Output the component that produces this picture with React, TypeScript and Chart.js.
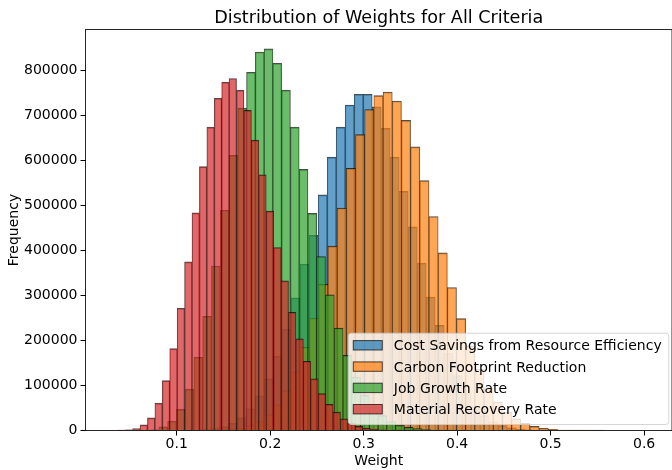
import React, { useEffect, useRef } from "react";
import { Chart, registerables } from "chart.js";

Chart.register(...registerables);

const titleText = "Distribution of Weights for All Criteria";
const xAxisTitle = "Weight";
const yAxisTitle = "Frequency";

const seriesLabels = [
  "Cost Savings from Resource Efficiency",
  "Carbon Footprint Reduction",
  "Job Growth Rate",
  "Material Recovery Rate",
];

// each histogram has its own bins: left edge of first bin and bin width
const costBinStart = 0.1069;
const costBinWidth = 0.00963;
const costCounts = [
  400, 900, 2000, 4200, 8500, 16000, 28000, 48000, 77000, 115000, 165000, 225000,
  295000, 370000, 434000, 524000, 608000, 675000, 724000, 748000, 748000, 720000,
  672000, 608000, 532000, 453000, 372000, 297000, 234000, 172000, 122000, 83000,
  54000, 33000, 20000, 11000, 6000, 3000, 1500, 700, 300,
];

const carbonBinStart = 0.144;
const carbonBinWidth = 0.00982;
const carbonCounts = [
  1500, 3000, 6000, 11000, 20000, 35000, 57000, 88000, 130000, 185000, 250000,
  325000, 410000, 495000, 583000, 658000, 714000, 745000, 753000, 733000, 690000,
  631000, 556000, 476000, 395000, 318000, 249000, 188000, 136000, 95000, 64000,
  41000, 26000, 16000, 9000, 5000, 2500, 1200, 600, 300, 150, 80,
];

const jobBinStart = 0.0622;
const jobBinWidth = 0.00938;
const jobCounts = [
  500, 1500, 8000, 21000, 47000, 92000, 163000, 254000, 366000, 490000, 612000,
  717000, 797000, 842000, 849000, 817000, 757000, 675000, 581000, 483000, 387000,
  302000, 228000, 167000, 119000, 78000, 52000, 33000, 20000, 12000, 7000, 4000,
  2000, 1200, 600, 300, 150,
];

const materialBinStart = 0.037;
const materialBinWidth = 0.00794;
const materialCounts = [
  300, 1500, 4500, 12500, 28000, 61000, 111000, 182000, 272000, 375000, 484000,
  587000, 675000, 739000, 775000, 783000, 757000, 712000, 646000, 569000, 488000,
  407000, 333000, 263000, 204000, 154000, 115000, 82000, 58000, 41000, 26000,
  16000, 9000, 5000, 3000, 1500, 800, 400, 200, 100,
];

const xTickValues = [0.1, 0.2, 0.3, 0.4, 0.5, 0.6];
const xTickLabels = ["0.1", "0.2", "0.3", "0.4", "0.5", "0.6"];
const yTickValues = [0, 100000, 200000, 300000, 400000, 500000, 600000, 700000, 800000];
const yTickLabels = ["0", "100000", "200000", "300000", "400000", "500000", "600000", "700000", "800000"];

const xMin = 0.0025;
const xMax = 0.6298;
const yMax = 892000;

const fillColors = [
  "rgba(31,119,180,0.7)",
  "rgba(255,127,14,0.7)",
  "rgba(44,160,44,0.7)",
  "rgba(214,39,40,0.7)",
];
const edgeColor = "rgba(0,0,0,0.7)";
const FONT = '"DejaVu Sans", "Liberation Sans", sans-serif';

function binPoints(start: number, width: number, counts: number[]) {
  return counts.map((c, i) => ({ x: start + (i + 0.5) * width, y: c }));
}

const decorPlugin = {
  id: "decor",
  afterDatasetsDraw(chart: any) {
    const { ctx, chartArea } = chart;
    ctx.save();
    ctx.strokeStyle = "rgba(0,0,0,0.85)";
    ctx.lineWidth = 1;
    ctx.strokeRect(
      chartArea.left,
      chartArea.top,
      chartArea.right - chartArea.left,
      chartArea.bottom - chartArea.top
    );
    ctx.restore();
  },
  afterDraw(chart: any) {
    const { ctx, chartArea } = chart;
    const cx = (chartArea.left + chartArea.right) / 2;
    const cy = (chartArea.top + chartArea.bottom) / 2;
    ctx.save();
    ctx.fillStyle = "#000";
    ctx.textBaseline = "alphabetic";
    ctx.textAlign = "center";
    ctx.font = `17.6px ${FONT}`;
    ctx.fillText(titleText, cx, 23);
    ctx.font = `14px ${FONT}`;
    ctx.fillText(xAxisTitle, cx, 465);
    ctx.save();
    ctx.translate(17.5, cy);
    ctx.rotate(-Math.PI / 2);
    ctx.fillText(yAxisTitle, 0, 0);
    ctx.restore();

    // legend (lower right, inside axes)
    const labels = chart.data.datasets.map((d: any) => d.label);
    ctx.font = `14px ${FONT}`;
    let maxW = 0;
    labels.forEach((l: string) => {
      maxW = Math.max(maxW, ctx.measureText(l).width);
    });
    const right = chartArea.right - 3.7;
    const boxW = 5.4 + 29 + 11.6 + maxW + 6.6;
    const left = right - boxW;
    const top = chartArea.bottom - 97.8;
    const boxH = 91.3;
    ctx.beginPath();
    ctx.roundRect(left + 0.5, top + 0.5, boxW, boxH, 3);
    ctx.fillStyle = "rgba(255,255,255,0.8)";
    ctx.fill();
    ctx.strokeStyle = "rgba(204,204,204,0.8)";
    ctx.lineWidth = 1;
    ctx.stroke();
    ctx.textAlign = "left";
    labels.forEach((l: string, i: number) => {
      const rc = top + 12.6 + i * 21.3;
      const px = left + 5.4;
      ctx.fillStyle = chart.data.datasets[i].backgroundColor;
      ctx.fillRect(px, rc - 4.7, 29, 9.4);
      ctx.strokeStyle = edgeColor;
      ctx.strokeRect(px, rc - 4.7, 29, 9.4);
      ctx.fillStyle = "#000";
      ctx.fillText(l, left + 46, rc + 5);
    });
    ctx.restore();
  },
};

export default function App() {
  const canvasRef = useRef<HTMLCanvasElement | null>(null);

  useEffect(() => {
    if (!canvasRef.current) return;
    const common = {
      borderColor: edgeColor,
      borderWidth: { top: 1, left: 0.6, right: 0.6, bottom: 0 },
      borderSkipped: false,
      grouped: false,
      barPercentage: 1,
      categoryPercentage: 1,
    };
    const hiddenX = {
      type: "linear",
      min: xMin,
      max: xMax,
      display: false,
      offset: false,
      grid: { offset: false },
    };
    const chart = new Chart(canvasRef.current, {
      type: "bar",
      data: {
        datasets: [
          {
            ...common,
            label: seriesLabels[0],
            data: binPoints(costBinStart, costBinWidth, costCounts),
            backgroundColor: fillColors[0],
            xAxisID: "x",
            order: 3,
          },
          {
            ...common,
            label: seriesLabels[1],
            data: binPoints(carbonBinStart, carbonBinWidth, carbonCounts),
            backgroundColor: fillColors[1],
            xAxisID: "x1",
            order: 2,
          },
          {
            ...common,
            label: seriesLabels[2],
            data: binPoints(jobBinStart, jobBinWidth, jobCounts),
            backgroundColor: fillColors[2],
            xAxisID: "x2",
            order: 1,
          },
          {
            ...common,
            label: seriesLabels[3],
            data: binPoints(materialBinStart, materialBinWidth, materialCounts),
            backgroundColor: fillColors[3],
            xAxisID: "x3",
            order: 0,
          },
        ] as any,
      },
      options: {
        animation: false,
        responsive: false,
        events: [],
        layout: { padding: { top: 29.5, left: 0, right: 0, bottom: 0 } },
        plugins: {
          legend: { display: false },
          title: { display: false },
          tooltip: { enabled: false },
        },
        scales: {
          x: {
            type: "linear",
            position: "bottom",
            min: xMin,
            max: xMax,
            offset: false,
            grid: { offset: false, drawOnChartArea: false, tickLength: 5, color: "#000", lineWidth: 1 },
            border: { display: false },
            ticks: {
              font: { family: FONT, size: 14 },
              color: "#000",
              padding: 0,
              maxRotation: 0,
              autoSkip: false,
              callback: (_v: any, i: number) => xTickLabels[i],
            },
            afterBuildTicks: (s: any) => {
              s.ticks = xTickValues.map((v) => ({ value: v }));
            },
            afterFit: (s: any) => {
              s.height = 39.5;
            },
          },
          x1: hiddenX,
          x2: hiddenX,
          x3: hiddenX,
          y: {
            type: "linear",
            min: 0,
            max: yMax,
            grid: { drawOnChartArea: false, tickLength: 5, color: "#000", lineWidth: 1 },
            border: { display: false },
            ticks: {
              font: { family: FONT, size: 14 },
              color: "#000",
              padding: 3,
              autoSkip: false,
              callback: (_v: any, i: number) => yTickLabels[i],
            },
            afterBuildTicks: (s: any) => {
              s.ticks = yTickValues.map((v) => ({ value: v }));
            },
            afterFit: (s: any) => {
              s.width = 85.5;
            },
          },
        } as any,
      },
      plugins: [decorPlugin],
    });
    return () => chart.destroy();
  }, []);

  return (
    <div style={{ position: "absolute", left: 0, top: 0, width: 672, height: 470, background: "#fff" }}>
      <canvas ref={canvasRef} width={672} height={470} style={{ display: "block" }} />
    </div>
  );
}
